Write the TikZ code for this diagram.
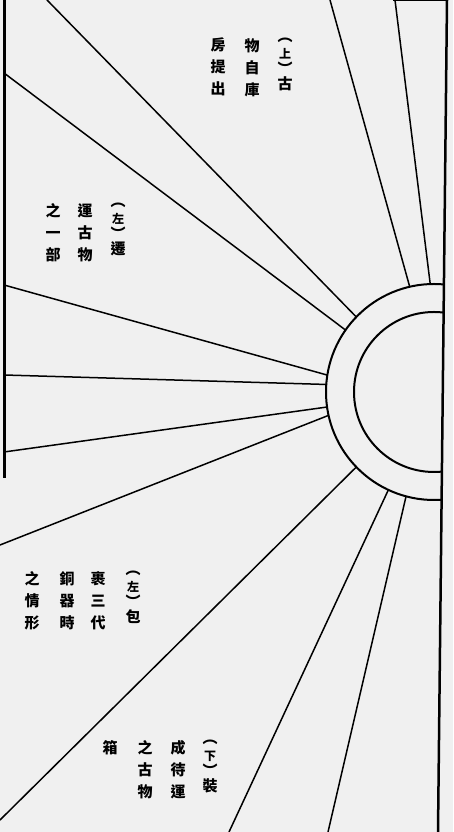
\documentclass[tikz,border=0pt]{standalone}
\usepackage{fontspec}
\newfontfamily\cjk{Noto Sans CJK TC}
\definecolor{paper}{RGB}{240,240,240}
\newcommand{\pl}{︵}
\newcommand{\pr}{︶}
\newcommand{\inpar}[1]{\pl\\[-5pt]{\fontsize{12}{12}\selectfont #1}\\[-6pt]\pr\\[-7pt]}
\begin{document}
\begin{tikzpicture}[x=1pt,y=1pt,
        ray/.style={line width=1.5pt},
        rim/.style={line width=2pt},
        frameline/.style={line width=3pt},
        vcol/.style={anchor=north,inner sep=0pt,align=center,
          font=\cjk\bfseries\fontsize{15}{22}\selectfont}]
        \fill[paper] (0,0) rectangle (453,832);
        \useasboundingbox (0,0) rectangle (453,832);
        % sun
        \coordinate (c) at (434,440);
        \coordinate (lt) at (4,832);
        \coordinate (lb) at (4,354);
        \coordinate (rt) at (447,832);
        \coordinate (rb) at (438,0);
        \coordinate (tt) at (393,832);
        \begin{scope}
          \clip (0,0) -- (rb) -- (rt) -- (0,832) -- cycle;
          \draw[rim] (c) circle[radius=108];
          \draw[rim] (c) circle[radius=80];
        \end{scope}
        \draw[frameline] (lt) -- (lb);
        \draw[line width=2.5pt] (rt) -- (rb);
        \draw[rim] (tt) -- (rt);
        % rays
        \foreach \a/\x/\y in {103/330/832, 92/395/832, 136/47/832,
            145/4/759, 171/4/547, 176/4/457, 188/4/380,
            192.5/0/287, 224/0/12, 245/229/0, 255/328/0}
          \draw[ray] (c) ++(\a:108) -- (\x,\y);
        % texts
        \node[vcol] (t1) at (285,794) {\inpar{上}古};
        \node[vcol] (t2) at (252,794) {物\\自\\庫};
        \node[vcol] (t3) at (218,794) {房\\提\\出};
        \node[vcol] (m1) at (118,629) {\inpar{左}遷};
        \node[vcol] (m2) at (85,629) {運\\古\\物};
        \node[vcol] (m3) at (53,629) {之\\一\\部};
        \node[vcol] (n1) at (133,261) {\inpar{左}包};
        \node[vcol] (n2) at (98,261) {裹\\三\\代};
        \node[vcol] (n3) at (67,261) {銅\\器\\時};
        \node[vcol] (n4) at (32,261) {之\\情\\形};
        \node[vcol] (b1) at (210,92) {\inpar{下}裝};
        \node[vcol] (b2) at (178,92) {成\\待\\運};
        \node[vcol] (b3) at (145,92) {之\\古\\物};
        \node[vcol] (b4) at (110,92) {箱};
\end{tikzpicture}
\end{document}
